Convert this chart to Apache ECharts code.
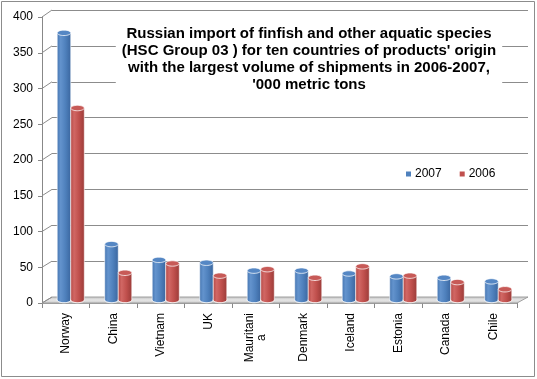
<!DOCTYPE html>
<html>
<head>
<meta charset="utf-8">
<script src="https://cdn.jsdelivr.net/npm/echarts@6/dist/echarts.min.js"></script>
<style>
html,body{margin:0;padding:0;background:#fff;}
#chart{width:537px;height:379px;}
</style>
</head>
<body>
<div id="chart"></div>
<script>
const categories = ['Norway','China','Vietnam','UK','Mauritania','Denmark','Iceland','Estonia','Canada','Chile'];
const values2007 = [373, 78, 56, 52, 41, 41, 37, 33, 31, 26];
const values2006 = [268, 38, 51, 34, 43, 31, 47, 34, 25, 15];
const seriesNames = ['2007', '2006'];
const yMin = 0, yMax = 400, yStep = 50;
const titleText = "Russian import of finfish and other aquatic species\n(HSC Group 03 ) for ten countries of products' origin\nwith the largest volume of shipments in 2006-2007,\n'000 metric tons";

const FONT = 'Liberation Sans, Arial, sans-serif';
const palette = {
  '2007': {base:'#4F81BD', edgeL:'#4777b2', light:'#6393cd', edgeR:'#3b67a0', top:'#5587c4'},
  '2006': {base:'#C0504D', edgeL:'#b54a47', light:'#d16764', edgeR:'#9c3c39', top:'#c75a57'}
};

function cylinder(sIdx, name) {
  return function (params, api) {
    const idx = api.value(0), val = api.value(1);
    const top = api.coord([idx, val]);
    const base = api.coord([idx, 0]);
    const band = api.size([1, 0])[0];
    const w = band * 0.285;
    const cx = top[0] + (sIdx === 0 ? -w / 2 : w / 2);
    const ry = w * 0.2;
    const p = palette[name];
    const grad = new echarts.graphic.LinearGradient(0, 0, 1, 0, [
      {offset: 0, color: p.edgeL},
      {offset: 0.25, color: p.light},
      {offset: 0.6, color: p.base},
      {offset: 1, color: p.edgeR}
    ]);
    const rim = 'rgba(255,255,255,0.75)';
    return {
      type: 'group',
      children: [
        {type: 'ellipse', shape: {cx: cx, cy: base[1], rx: w / 2, ry: ry}, style: {fill: grad, stroke: rim, lineWidth: 0.8}},
        {type: 'rect', shape: {x: cx - w / 2, y: top[1], width: w, height: base[1] - top[1]}, style: {fill: grad}},
        {type: 'line', shape: {x1: cx - w / 2, y1: top[1], x2: cx - w / 2, y2: base[1]}, style: {stroke: rim, lineWidth: 0.8}},
        {type: 'line', shape: {x1: cx + w / 2, y1: top[1], x2: cx + w / 2, y2: base[1]}, style: {stroke: rim, lineWidth: 0.8}},
        {type: 'ellipse', shape: {cx: cx, cy: top[1], rx: w / 2, ry: ry}, style: {fill: p.top, stroke: rim, lineWidth: 1}}
      ]
    };
  };
}

const chart = echarts.init(document.getElementById('chart'), null, {renderer: 'canvas'});
const option = {
  animation: false,
  backgroundColor: '#fff',
  title: {
    text: titleText,
    left: 303,
    textAlign: 'center',
    top: 20,
    padding: [5, 6],
    backgroundColor: '#fff',
    z: 10,
    textStyle: {fontFamily: FONT, fontSize: 15, fontWeight: 'bold', color: '#000', lineHeight: 17}
  },
  legend: {
    left: 401, top: 163,
    itemWidth: 5, itemHeight: 5, itemGap: 18,
    icon: 'rect',
    data: seriesNames,
    textStyle: {fontFamily: FONT, fontSize: 12, color: '#000', padding: [0, 0, 0, -1]}
  },
  grid: [
    {left: 42, right: 20, top: 17, bottom: 76},
    {left: 52, right: 9, top: 10, bottom: 82},
    {left: 47, right: 15, top: 13.5, bottom: 79}
  ],
  xAxis: [
    {
      type: 'category', gridIndex: 0, data: categories,
      axisLine: {show: true, lineStyle: {color: '#999'}},
      axisTick: {show: true, length: 5, lineStyle: {color: '#888'}},
      axisLabel: {
        rotate: 90, margin: 10, fontFamily: FONT, fontSize: 12, color: '#000',
        formatter: function (v) {
          if (v.length > 9) {
            return '{c|' + v.slice(0, 9) + '}\n{c|' + v.slice(9) + '}';
          }
          return v;
        },
        rich: {c: {align: 'center', fontFamily: FONT, fontSize: 12, color: '#000'}}
      }
    },
    {type: 'category', gridIndex: 1, data: categories, show: false},
    {type: 'category', gridIndex: 2, data: categories, show: false}
  ],
  yAxis: [
    {
      type: 'value', gridIndex: 0, min: yMin, max: yMax, interval: yStep,
      axisLine: {show: true, lineStyle: {color: '#888'}},
      axisTick: {show: true, length: 4, lineStyle: {color: '#888'}},
      splitLine: {show: false},
      axisLabel: {margin: 9, fontFamily: FONT, fontSize: 12, color: '#000'}
    },
    {
      type: 'value', gridIndex: 1, min: yMin, max: yMax, interval: yStep,
      axisLine: {show: false}, axisTick: {show: false}, axisLabel: {show: false},
      splitLine: {show: true, lineStyle: {color: '#8c8c8c', width: 1}}
    },
    {
      type: 'value', gridIndex: 2, min: yMin, max: yMax, interval: yStep, show: false,
      splitLine: {show: false}
    }
  ],
  series: seriesNames.map(function (name, i) {
    const vals = i === 0 ? values2007 : values2006;
    return {
      name: name,
      type: 'custom',
      xAxisIndex: 2, yAxisIndex: 2,
      itemStyle: {color: palette[name].base},
      renderItem: cylinder(i, name),
      encode: {x: 0, y: 1},
      data: vals.map(function (v, k) { return [k, v]; }),
      z: 5
    };
  })
};
chart.setOption(option);

// 3D decorations: floor slab and tick connectors from front axis to back wall
const g = [];
const front0 = chart.convertToPixel({yAxisIndex: 0}, 0);
const back0 = chart.convertToPixel({yAxisIndex: 1}, 0);
const gr0 = chart.getModel().getComponent('grid', 0).coordinateSystem.getRect();
const gr1 = chart.getModel().getComponent('grid', 1).coordinateSystem.getRect();
g.push({
  type: 'polygon', z: 1,
  shape: {points: [[gr0.x, front0], [gr0.x + gr0.width, front0], [gr1.x + gr1.width, back0], [gr1.x, back0]]},
  style: {
    fill: new echarts.graphic.LinearGradient(0, 0, 0, 1, [
      {offset: 0, color: '#bdbdbd'}, {offset: 0.5, color: '#e6e6e6'}, {offset: 1, color: '#c8c8c8'}
    ]),
    stroke: '#a0a0a0', lineWidth: 1
  }
});
for (let v = yMin; v <= yMax; v += yStep) {
  const yf = chart.convertToPixel({yAxisIndex: 0}, v);
  const yb = chart.convertToPixel({yAxisIndex: 1}, v);
  g.push({type: 'line', z: 1, shape: {x1: gr0.x, y1: yf, x2: gr1.x, y2: yb}, style: {stroke: '#8c8c8c', lineWidth: 1}});
}
g.push({type: 'rect', z: 0, silent: true, shape: {x: 1.5, y: 1.5, width: 533, height: 375}, style: {fill: null, stroke: '#8c8c8c', lineWidth: 1}});
chart.setOption({graphic: g});
</script>
</body>
</html>
